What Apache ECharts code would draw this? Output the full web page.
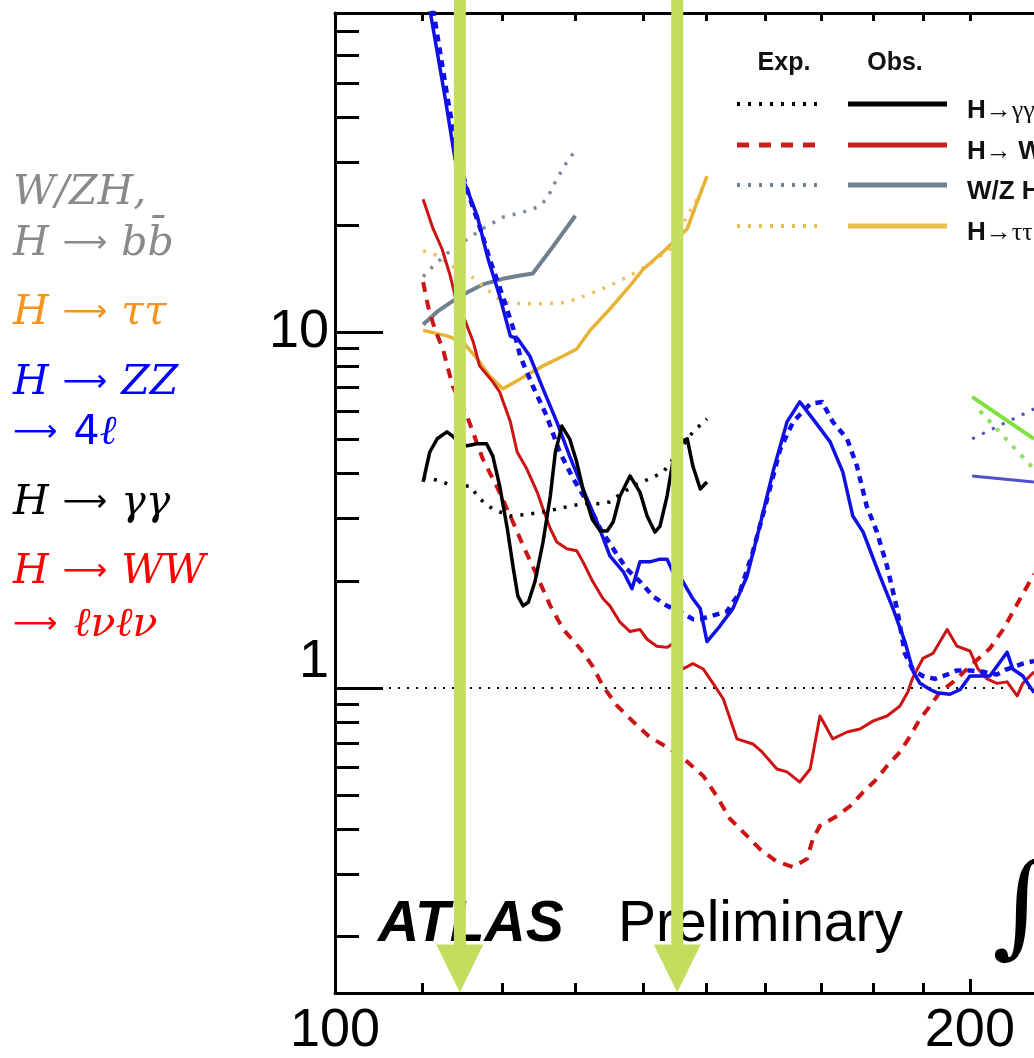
<!DOCTYPE html>
<html>
<head>
<meta charset="utf-8">
<script src="https://cdn.jsdelivr.net/npm/echarts@6/dist/echarts.min.js"></script>
<style>
  html, body { margin: 0; padding: 0; background: #ffffff; }
  #chart { width: 1034px; height: 1058px; }
</style>
</head>
<body>
<div id="chart"></div>
<script>
// ---- axes -------------------------------------------------------------
const massRange = [100, 214.5];          // m_H [GeV], log scale
const limitRange = [0.139, 78.7];        // 95% CL limit on sigma/sigma_SM, log scale
const massTickMajor = [200];
const massTickMinor = [110, 120, 130, 140, 150, 160, 170, 180, 190];
const massTickLabels = [100, 200];
const limitTickMajor = [1, 10];
const limitTickMinor = [0.2, 0.3, 0.4, 0.5, 0.6, 0.7, 0.8, 0.9, 2, 3, 4, 5, 6, 7, 8, 9, 20, 30, 40, 50, 60, 70];

// ---- limit curves: [mass, limit] --------------------------------------
const zzObs = [[110.9,80.8],[112.8,45.1],[114.0,30.6],[115.5,25.2],[116.8,21.2],[118.2,16.0],[119.7,12.6],[121.1,9.74],[122.1,9.56],[123.7,8.56],[125.5,6.92],[127.4,5.59],[129.2,4.48],[131.1,3.62],[133.1,2.93],[135.0,2.35],[137.0,2.12],[138.3,1.90],[139.5,2.26],[141.0,2.26],[142.6,2.30],[143.7,2.30],[144.6,2.12],[145.7,2.06],[147.8,1.78],[149.0,1.67],[150.1,1.35],[152.2,1.49],[154.4,1.67],[156.8,2.06],[159.0,2.85],[161.3,4.04],[163.8,5.59],[166.1,6.36],[168.5,5.70],[171.7,4.91],[174.1,4.04],[176.0,3.04],[178.0,2.74],[181.3,2.06],[183.9,1.67],[186.3,1.35],[188.0,1.11],[189.4,1.03],[191.5,0.99],[192.9,0.97],[195.7,0.96],[197.9,0.99],[200.0,1.08],[202.2,1.08],[204.4,1.08],[208.3,1.26],[209.6,1.13],[211.9,1.08],[214.5,0.97]];
const zzExp = [[111.3,80.8],[113.1,45.1],[114.4,30.6],[115.9,23.6],[117.1,19.8],[118.4,16.0],[120.1,12.6],[121.5,10.2],[122.4,8.56],[124.1,7.05],[126.0,5.81],[127.8,4.60],[129.7,3.87],[131.7,3.33],[133.6,2.80],[135.5,2.46],[137.5,2.16],[139.5,1.99],[141.5,1.81],[143.7,1.70],[145.7,1.64],[147.8,1.56],[149.0,1.56],[153.4,1.64],[155.6,1.86],[157.8,2.41],[160.3,3.40],[162.6,4.69],[164.9,5.59],[168.0,6.28],[170.2,6.36],[172.2,5.59],[174.9,5.01],[176.8,4.20],[178.7,3.24],[180.7,2.74],[182.7,2.20],[184.7,1.67],[186.3,1.25],[188.0,1.12],[190.0,1.08],[192.5,1.06],[195.1,1.09],[197.2,1.12],[200.0,1.12],[202.9,1.11],[206.0,1.09],[208.3,1.13],[211.9,1.17],[214.5,1.19]];

const wwObs = [[110.1,23.6],[111.3,19.5],[112.4,17.1],[113.4,14.4],[114.2,12.1],[115.3,10.7],[116.3,9.37],[117.1,8.03],[118.8,7.24],[119.7,6.78],[121.1,5.59],[122.0,4.60],[123.3,4.12],[124.7,3.55],[125.5,3.18],[126.5,2.80],[127.4,2.57],[128.8,2.46],[130.2,2.43],[131.1,2.26],[132.5,1.99],[134.0,1.78],[135.0,1.70],[136.5,1.53],[138.0,1.44],[139.5,1.46],[140.6,1.37],[142.1,1.31],[143.7,1.30],[144.6,1.33],[146.2,1.13],[147.8,1.17],[149.5,1.13],[151.1,1.03],[152.8,0.931],[155.1,0.719],[157.8,0.696],[159.4,0.661],[162.0,0.592],[163.8,0.581],[166.1,0.544],[168.0,0.592],[169.8,0.834],[172.2,0.719],[174.9,0.752],[177.4,0.767],[180.0,0.808],[182.7,0.834],[185.3,0.890],[186.9,0.974],[187.8,1.06],[190.0,1.21],[192.1,1.25],[195.1,1.46],[197.2,1.31],[200.0,1.27],[201.8,1.13],[203.8,1.06],[206.0,1.03],[208.3,1.04],[210.6,0.95],[211.9,1.03],[214.5,1.11]];
const wwExp = [[110.1,13.8],[110.7,11.8],[111.5,10.2],[112.5,8.96],[113.7,7.05],[115.5,5.81],[117.5,4.40],[119.3,3.69],[121.1,3.04],[122.8,2.51],[124.7,2.06],[126.5,1.70],[128.3,1.46],[130.7,1.29],[132.5,1.15],[134.0,1.01],[136.1,0.890],[138.5,0.803],[141.0,0.728],[144.2,0.674],[146.9,0.620],[149.5,0.566],[151.7,0.497],[153.9,0.429],[156.8,0.384],[159.0,0.353],[162.0,0.325],[164.9,0.314],[167.4,0.331],[168.5,0.377],[169.8,0.410],[173.0,0.437],[175.5,0.466],[178.0,0.510],[180.7,0.555],[182.7,0.604],[185.3,0.661],[187.4,0.733],[189.4,0.818],[191.5,0.890],[193.6,0.974],[196.4,1.04],[200.0,1.15],[204.4,1.29],[207.4,1.46],[210.6,1.72],[214.5,2.09]];

const ggObs = [[110.1,3.79],[110.9,4.60],[111.8,5.01],[113.0,5.24],[113.7,5.10],[114.6,4.85],[115.5,4.79],[116.8,4.85],[118.0,4.85],[118.8,4.48],[119.7,3.69],[120.7,2.80],[121.5,2.16],[122.1,1.81],[122.8,1.70],[123.5,1.74],[124.4,1.99],[125.5,2.57],[126.5,3.46],[127.2,4.60],[128.1,5.44],[129.2,5.01],[130.2,4.31],[131.1,3.62],[132.4,2.98],[133.6,2.76],[134.6,2.76],[135.5,2.93],[136.5,3.46],[138.0,3.94],[139.5,3.55],[140.6,3.04],[141.8,2.74],[142.6,2.85],[143.7,3.46],[144.6,4.31],[145.7,4.91],[146.9,5.01],[147.8,4.20],[149.0,3.62],[150.1,3.79]];
const ggExp = [[110.1,3.91],[112.1,3.82],[113.7,3.69],[115.9,3.69],[117.1,3.40],[118.8,3.18],[121.1,3.04],[123.7,3.08],[125.5,3.12],[127.4,3.18],[129.2,3.24],[131.1,3.29],[133.1,3.29],[135.0,3.33],[137.0,3.55],[139.1,3.74],[141.0,3.87],[143.1,4.04],[146.2,4.79],[147.8,5.24],[150.1,5.70]];

const vhObs = [[110.1,10.5],[111.8,11.4],[113.7,12.2],[115.5,12.9],[117.5,13.6],[120.1,14.1],[122.4,14.4],[124.1,14.6],[126.9,17.4],[130.0,21.2]];
const vhExp = [[110.1,14.3],[111.3,15.3],[113.0,16.6],[115.0,17.9],[117.5,19.5],[120.1,21.0],[122.8,21.7],[124.7,22.4],[126.0,23.6],[127.4,26.9],[128.8,30.0],[130.2,32.7]];

const ttObs = [[110.1,10.1],[113.0,9.75],[115.0,9.37],[116.8,8.40],[118.4,7.52],[120.1,6.92],[122.4,7.38],[125.5,8.03],[128.3,8.56],[130.2,8.96],[132.1,10.1],[135.0,11.6],[138.0,13.5],[140.0,15.0],[143.1,16.8],[146.9,19.5],[148.5,23.2],[150.1,27.4]];
const ttExp = [[110.1,16.9],[111.8,16.4],[113.7,15.3],[115.9,14.4],[118.0,13.2],[120.1,12.1],[122.8,12.0],[125.5,12.0],[128.8,12.1],[132.1,12.8],[135.0,13.5],[138.0,14.4],[141.0,15.5],[144.2,17.1],[146.9,21.2],[148.5,23.6],[149.8,26.0]];

const highMassAObs = [[200.5,6.57],[214.5,5.01]];
const highMassAExp = [[202.2,6.00],[214.5,4.12]];
const highMassBObs = [[200.5,3.94],[214.5,3.79]];
const highMassBExp = [[200.5,5.01],[214.5,6.08]];

// reference level sigma = sigma_SM and the two marked masses
const unityLevel = 1;
const arrowMasses = [114.6, 145.3];
const arrowSpan = [86, 0.163];   // shaft top, head centre

// ---- legend / channel labels ------------------------------------------
const legendHeads = ['Exp.', 'Obs.'];
const legendRows = [
  { text: '{b|H}{s|→γγ}',        color: '#000000', dash: [3, 8],   width: 4 },
  { text: '{b|H}{s|→ }{b|WW}',   color: '#c81e1e', dash: [12, 10], width: 5 },
  { text: '{b|W/Z H}',           color: '#708090', dash: [3, 8],   width: 4 },
  { text: '{b|H}{s|→ττ}',        color: '#e6bf4c', dash: [3, 8],   width: 4 }
];
const channelLabels = [
  { text: '{i|W/ZH,}',              color: '#8a8a8a' },
  { text: '{i|H}{a|⟶}{i|bb\u0304}', color: '#8a8a8a' },
  { text: '{i|H}{a|⟶}{i|ττ}',       color: '#f7941d' },
  { text: '{i|H}{a|⟶}{i|ZZ}',       color: '#0000ff' },
  { text: '{a0|⟶}{u|4}{i|ℓ}',       color: '#0000ff' },
  { text: '{i|H}{a|⟶}{i|γγ}',       color: '#000000' },
  { text: '{i|H}{a|⟶}{i|WW}',       color: '#ff0000' },
  { text: '{a0|⟶}{i|ℓνℓν}',         color: '#ff0000' }
];
const channelBaselines = [208, 259, 328, 398, 448, 518, 587, 640];

// ---- build ------------------------------------------------------------
const BLUE = '#1010e6', RED = '#cc1414', SLATE = '#708090', GOLD = '#e8b232';

function curve(data, color, width, dash, z) {
  return {
    type: 'line', data: data, symbol: 'none', showSymbol: false, silent: true,
    clip: true, z: z || 3, animation: false,
    lineStyle: { color: color, width: width, type: dash || 'solid', cap: 'butt', join: 'round' }
  };
}

const series = [
  curve([[massRange[0], unityLevel], [massRange[1], unityLevel]], '#000', 2, [2, 7], 2),
  curve(vhExp, '#7c8ba0', 3.5, [3, 8]),
  curve(vhObs, SLATE, 4),
  curve(ttExp, '#f0c060', 3.5, [3, 8]),
  curve(ttObs, GOLD, 3.5),
  curve(wwExp, RED, 4, [10, 8]),
  curve(wwObs, RED, 3),
  curve(zzExp, BLUE, 4.5, [7, 6]),
  curve(zzObs, BLUE, 3.5),
  curve(ggExp, '#000', 3.5, [3, 8]),
  curve(ggObs, '#000', 3.5),
  curve(highMassAExp, '#8ee060', 4, [4, 8]),
  curve(highMassAObs, '#80e040', 4),
  curve(highMassBExp, '#5050c0', 3, [3, 8]),
  curve(highMassBObs, '#5050c8', 3)
];

arrowMasses.forEach(function (m) {
  series.push({
    type: 'line', silent: true, clip: false, z: 20, animation: false,
    showSymbol: true,
    lineStyle: { color: '#c3dd5e', width: 12, cap: 'butt' },
    itemStyle: { color: '#c3dd5e', borderWidth: 0 },
    data: [
      { value: [m, arrowSpan[0]], symbol: 'none' },
      { value: [m, arrowSpan[1]], symbol: 'triangle', symbolRotate: 180, symbolSize: [47, 48] }
    ]
  });
});

const graphics = [];
// channel labels on the left
channelLabels.forEach(function (c, k) {
  graphics.push({
    type: 'text', x: 13, y: channelBaselines[k] - 15, silent: true,
    style: {
      text: c.text, fill: c.color, verticalAlign: 'middle',
      rich: {
        i: { fontFamily: 'DejaVu Serif', fontStyle: 'italic', fontSize: 41, fill: c.color, verticalAlign: 'middle' },
        a: { fontFamily: 'DejaVu Sans', fontSize: 31, padding: [0, 14, 0, 14], fill: c.color, verticalAlign: 'middle' },
        a0: { fontFamily: 'DejaVu Sans', fontSize: 31, padding: [0, 16, 0, 0], fill: c.color, verticalAlign: 'middle' },
        u: { fontFamily: 'DejaVu Sans', fontSize: 41, fill: c.color, verticalAlign: 'middle' }
      }
    }
  });
});
// legend
const legendY = [104, 145, 185, 226];
graphics.push({ type: 'text', x: 784, y: 63, silent: true,
  style: { text: legendHeads[0], font: 'bold 25px "Liberation Sans"', fill: '#111', align: 'center', verticalAlign: 'middle' } });
graphics.push({ type: 'text', x: 895, y: 63, silent: true,
  style: { text: legendHeads[1], font: 'bold 25px "Liberation Sans"', fill: '#111', align: 'center', verticalAlign: 'middle' } });
legendRows.forEach(function (r, k) {
  const y = legendY[k];
  graphics.push({ type: 'line', silent: true, shape: { x1: 737, y1: y, x2: 822, y2: y },
    style: { stroke: r.color, lineWidth: r.width, lineDash: r.dash } });
  graphics.push({ type: 'line', silent: true, shape: { x1: 848, y1: y, x2: 947, y2: y },
    style: { stroke: r.color, lineWidth: 5 } });
  graphics.push({ type: 'text', x: 967, y: y + 7, silent: true,
    style: { text: r.text, fill: '#111', verticalAlign: 'middle',
      rich: {
        b: { fontFamily: 'Liberation Sans', fontWeight: 'bold', fontSize: 26, fill: '#111' },
        s: { fontFamily: 'Liberation Serif', fontSize: 26, fill: '#111' }
      } } });
});
// experiment tag
graphics.push({ type: 'text', x: 378, y: 925, silent: true,
  style: { text: 'ATLAS', font: 'italic bold 57px "Liberation Sans"', fill: '#000', verticalAlign: 'middle' } });
graphics.push({ type: 'text', x: 618, y: 925, silent: true,
  style: { text: 'Preliminary', font: '57px "Liberation Sans"', fill: '#000', verticalAlign: 'middle' } });
graphics.push({ type: 'text', x: 992, y: 914, silent: true,
  style: { text: '∫', font: '112px "DejaVu Serif"', fill: '#000', verticalAlign: 'middle' } });

const axisLine = { show: true, lineStyle: { color: '#000', width: 3 } };
const tickStyle = { color: '#000', width: 3 };

const option = {
  animation: false,
  backgroundColor: '#ffffff',
  grid: { left: 335, right: 0, top: 13, bottom: 65, containLabel: false },
  xAxis: [
    { type: 'log', min: massRange[0], max: massRange[1], position: 'bottom',
      axisLine: axisLine,
      axisTick: { show: true, inside: true, length: 14, customValues: massTickMajor, lineStyle: tickStyle },
      axisLabel: { show: true, customValues: massTickLabels, margin: 11, color: '#000',
        fontFamily: 'Liberation Sans', fontSize: 54 },
      splitLine: { show: false }, minorTick: { show: false } },
    { type: 'log', min: massRange[0], max: massRange[1], position: 'bottom',
      axisLine: { show: false },
      axisTick: { show: true, inside: true, length: 10, customValues: massTickMinor, lineStyle: tickStyle },
      axisLabel: { show: false }, splitLine: { show: false } },
    { type: 'log', min: massRange[0], max: massRange[1], position: 'top',
      axisLine: axisLine,
      axisTick: { show: true, inside: true, length: 8, customValues: massTickMinor.concat(massTickMajor), lineStyle: tickStyle },
      axisLabel: { show: false }, splitLine: { show: false } }
  ],
  yAxis: [
    { type: 'log', min: limitRange[0], max: limitRange[1], position: 'left',
      axisLine: axisLine,
      axisTick: { show: true, inside: true, length: 48, customValues: limitTickMajor, lineStyle: tickStyle },
      axisLabel: { show: true, customValues: limitTickMajor, margin: 6, color: '#000',
        fontFamily: 'Liberation Sans', fontSize: 54,
        formatter: function (v) { return v === 1 ? '{lo|1}' : '{hi|' + v + '}'; },
        rich: {
          lo: { fontFamily: 'Liberation Sans', fontSize: 54, color: '#000', padding: [0, 0, 52, 0] },
          hi: { fontFamily: 'Liberation Sans', fontSize: 54, color: '#000' }
        } },
      splitLine: { show: false }, minorTick: { show: false } },
    { type: 'log', min: limitRange[0], max: limitRange[1], position: 'left',
      axisLine: { show: false },
      axisTick: { show: true, inside: true, length: 24, customValues: limitTickMinor, lineStyle: tickStyle },
      axisLabel: { show: false }, splitLine: { show: false } }
  ],
  graphic: graphics,
  series: series
};

const chart = echarts.init(document.getElementById('chart'), null, { renderer: 'canvas' });
chart.setOption(option);
</script>
</body>
</html>
